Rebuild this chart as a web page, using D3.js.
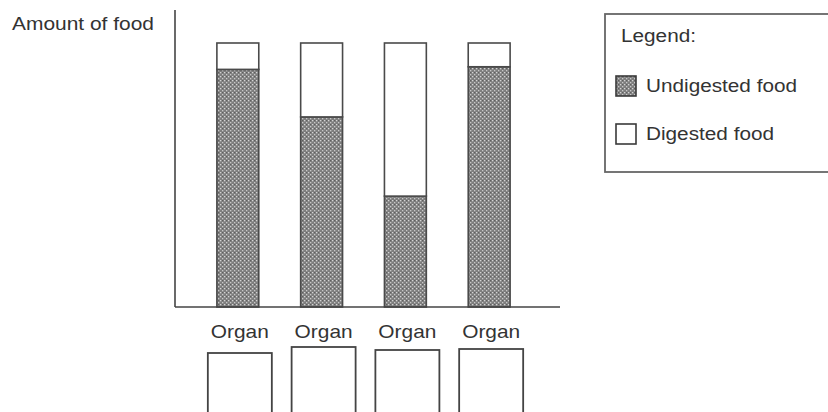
<!DOCTYPE html>
<html>
<head>
<meta charset="utf-8">
<script src="https://cdn.jsdelivr.net/npm/d3@7/dist/d3.min.js"></script>
<style>
  html, body { margin: 0; padding: 0; background: #fff; }
  svg { display: block; }
  text { font-family: "Liberation Sans", Arial, sans-serif; fill: #333; }
</style>
</head>
<body>
<svg id="chart" width="828" height="412"></svg>
<script>
// ---- data ----
const organs = ["Organ 1", "Organ 2", "Organ 3", "Organ 4"];
const tickLabels = ["Organ", "Organ", "Organ", "Organ"];
const undigested = [90, 72, 42, 91];
const digested = [10, 28, 58, 9];
const seriesNames = ["Undigested food", "Digested food"];
const yTitle = "Amount of food";
const legendTitle = "Legend:";

const svg = d3.select("#chart");

// pattern for stippled fill
const defs = svg.append("defs");
const pat = defs.append("pattern")
  .attr("id", "stipple").attr("patternUnits", "userSpaceOnUse")
  .attr("width", 4).attr("height", 4);
pat.append("rect").attr("width", 4).attr("height", 4).attr("fill", "#7e7e7e");
pat.append("rect").attr("x", 0).attr("y", 0).attr("width", 1.3).attr("height", 1.3).attr("fill", "#d4d4d4");
pat.append("rect").attr("x", 2).attr("y", 2).attr("width", 1.3).attr("height", 1.3).attr("fill", "#c8c8c8");
pat.append("rect").attr("x", 2).attr("y", 0).attr("width", 1).attr("height", 1).attr("fill", "#5e5e5e");

const x = d3.scaleBand().domain(organs).range([175, 552]).paddingInner(0.5).paddingOuter(0.5);
const y = d3.scaleLinear().domain([0, 100]).range([307, 43]);

const stack = d3.stack().keys(["u", "d"])(organs.map((o, i) => ({ id: o, u: undigested[i], d: digested[i] })));

// bars
const g = svg.append("g");
stack.forEach((layer, li) => {
  g.selectAll(null).data(layer).enter().append("rect")
    .attr("x", d => x(d.data.id))
    .attr("y", d => y(d[1]))
    .attr("width", x.bandwidth())
    .attr("height", d => y(d[0]) - y(d[1]))
    .attr("fill", li === 0 ? "url(#stipple)" : "#fff")
    .attr("stroke", "#4a4a4a")
    .attr("stroke-width", 1.6);
});

// axes (plain lines, no ticks)
const xAxis = d3.axisBottom(x).tickSize(0).tickFormat(() => "");
const xa = svg.append("g").attr("transform", `translate(0,${y(0)})`).call(xAxis);
xa.select(".domain").attr("d", `M175,0H560`).attr("stroke", "#444").attr("stroke-width", 1.6);

const yAxis = d3.axisLeft(y).tickSize(0).tickFormat(() => "");
const ya = svg.append("g").attr("transform", "translate(175,0)").call(yAxis);
ya.select(".domain").attr("d", `M0,10V${y(0)}`).attr("stroke", "#444").attr("stroke-width", 1.6);

// y title
svg.append("text").attr("x", 12).attr("y", 30)
  .attr("font-size", 19).attr("textLength", 142).attr("lengthAdjust", "spacingAndGlyphs")
  .text(yTitle);

// organ labels and empty boxes
const boxTops = [353, 347, 350, 349];
organs.forEach((o, i) => {
  const cx = x(o) + x.bandwidth() / 2 + 2;
  svg.append("text").attr("x", cx).attr("y", 338)
    .attr("text-anchor", "middle").attr("font-size", 19)
    .attr("textLength", 58).attr("lengthAdjust", "spacingAndGlyphs")
    .text(tickLabels[i]);
  svg.append("rect").attr("x", cx - 32).attr("y", boxTops[i])
    .attr("width", 64).attr("height", 70)
    .attr("fill", "none").attr("stroke", "#444").attr("stroke-width", 1.8);
});

// legend
const lg = svg.append("g");
lg.append("rect").attr("x", 605).attr("y", 14).attr("width", 240).attr("height", 158)
  .attr("fill", "#fff").attr("stroke", "#666").attr("stroke-width", 1.8);
lg.append("text").attr("x", 621).attr("y", 42).attr("font-size", 18)
  .attr("textLength", 75).attr("lengthAdjust", "spacingAndGlyphs").text(legendTitle);
const legFill = ["url(#stipple)", "#fff"];
const legY = [86, 134];
const legW = [151, 128];
seriesNames.forEach((s, i) => {
  lg.append("rect").attr("x", 616).attr("y", legY[i] - 10).attr("width", 20).attr("height", 20)
    .attr("fill", legFill[i]).attr("stroke", "#3a3a3a").attr("stroke-width", 1.6);
  lg.append("text").attr("x", 646).attr("y", legY[i] + 6).attr("font-size", 18)
    .attr("textLength", legW[i]).attr("lengthAdjust", "spacingAndGlyphs").text(s);
});
</script>
</body>
</html>
